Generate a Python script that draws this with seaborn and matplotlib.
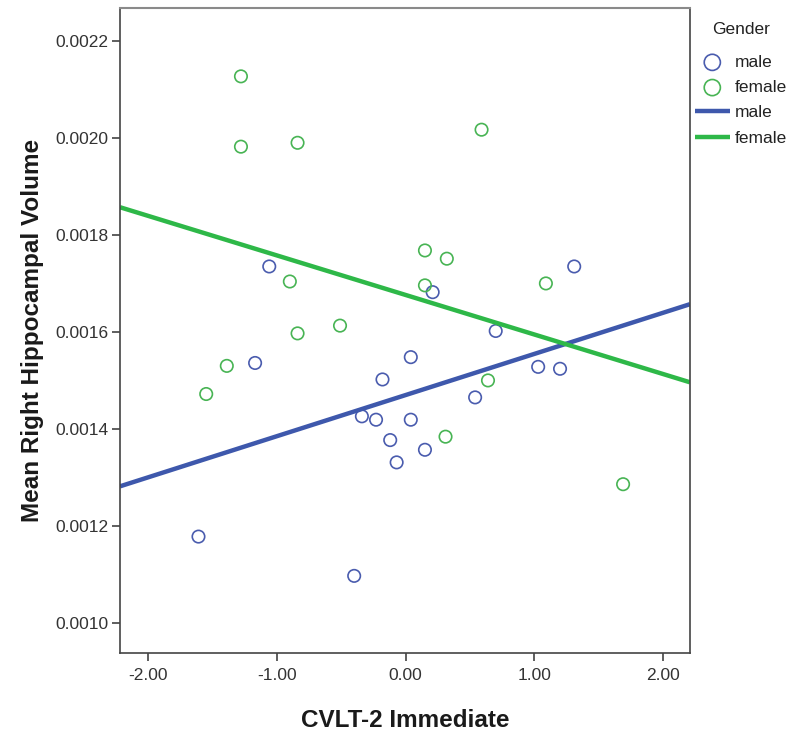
import pandas as pd
import matplotlib
matplotlib.use('Agg')
import matplotlib.pyplot as plt
import seaborn as sns

# values
male_cvlt = [-1.06, 1.31, 0.21, 0.70, 0.04, 1.03, 1.20, 0.54, 0.04, -1.17,
             -0.18, -0.34, -0.23, -0.12, -0.07, -1.61, -0.40, 0.15]
male_volume = [0.001735, 0.001735, 0.001682, 0.001602, 0.001548, 0.001528,
               0.001524, 0.001465, 0.001419, 0.001536, 0.001502, 0.001426,
               0.001419, 0.001377, 0.001331, 0.001178, 0.001097, 0.001357]
female_cvlt = [-1.28, -1.28, -0.84, -0.90, -0.51, -0.84, 0.59, 0.15, 0.32,
               0.15, 1.09, 0.64, -1.39, -1.55, 0.31, 1.69]
female_volume = [0.002127, 0.001982, 0.001990, 0.001704, 0.001613, 0.001597,
                 0.002017, 0.001768, 0.001751, 0.001696, 0.001700, 0.001500,
                 0.001530, 0.001472, 0.001384, 0.001286]

genders = ['male', 'female']
colors = {'male': '#3e58ac', 'female': '#2eb848'}
point_colors = {'male': '#4a5cae', 'female': '#48b454'}

df = pd.concat([
    pd.DataFrame({'CVLT-2 Immediate': male_cvlt,
                  'Mean Right Hippocampal Volume': male_volume,
                  'Gender': 'male'}),
    pd.DataFrame({'CVLT-2 Immediate': female_cvlt,
                  'Mean Right Hippocampal Volume': female_volume,
                  'Gender': 'female'}),
], ignore_index=True)

sns.set_theme(style='white')
plt.rcParams['font.family'] = ['Liberation Sans', 'DejaVu Sans']
plt.rcParams['axes.unicode_minus'] = False

fig = plt.figure(figsize=(8, 7.38), dpi=100)
ax = fig.add_axes([0.15, 0.1152, 0.7125, 0.874])

# axis range first, so the fit lines reach the frame
ax.set_xlim(-2.22, 2.21)
ax.set_ylim(0.000938, 0.002268)

# open circles per gender
point_handles = []
for g in genders:
    sns.scatterplot(data=df[df['Gender'] == g], x='CVLT-2 Immediate',
                    y='Mean Right Hippocampal Volume', s=80,
                    facecolor='none', edgecolor=point_colors[g],
                    linewidth=1.2, legend=False, ax=ax)
    point_handles.append(ax.collections[-1])

# linear fit per gender across the full axis
line_handles = []
for g in genders:
    sns.regplot(data=df[df['Gender'] == g], x='CVLT-2 Immediate',
                y='Mean Right Hippocampal Volume', scatter=False, ci=None,
                truncate=False, color=colors[g],
                line_kws={'lw': 3.2, 'solid_capstyle': 'butt'}, ax=ax)
    line_handles.append(ax.lines[-1])

ax.set_xlim(-2.22, 2.21)
ax.set_ylim(0.000938, 0.002268)
ax.set_xticks([-2, -1, 0, 1, 2])
ax.set_yticks([0.0010, 0.0012, 0.0014, 0.0016, 0.0018, 0.0020, 0.0022])
ax.xaxis.set_major_formatter(matplotlib.ticker.FormatStrFormatter('%.2f'))
ax.yaxis.set_major_formatter(matplotlib.ticker.FormatStrFormatter('%.4f'))
ax.tick_params(axis='both', direction='out', length=5.5, width=1.1,
               color='#333333', labelcolor='#333333', labelsize=12.5)
ax.tick_params(axis='x', pad=5, bottom=True)
ax.tick_params(axis='y', pad=3, left=True)

for side in ['left', 'bottom', 'right']:
    ax.spines[side].set_color('#444444')
    ax.spines[side].set_linewidth(1.2)
ax.spines['top'].set_color('#8a8a8a')
ax.spines['top'].set_linewidth(1.5)

ax.set_xlabel('CVLT-2 Immediate', fontsize=17.5, fontweight='bold',
              color='#1a1a1a', labelpad=19)
ax.set_ylabel('Mean Right Hippocampal Volume', fontsize=17.5,
              fontweight='bold', color='#1a1a1a', labelpad=8)

leg = fig.legend(point_handles + line_handles, genders + genders,
                 title='Gender', loc='upper left',
                 bbox_to_anchor=(0.86, 0.98), bbox_transform=fig.transFigure,
                 frameon=False, fontsize=12.5, title_fontsize=12.5,
                 handlelength=2.0, handletextpad=0.3, labelspacing=0.58,
                 markerscale=1.3, borderaxespad=0)
# a bit more room between the title and the first entry
leg._legend_box.sep = 13
for text in leg.get_texts():
    text.set_color('#222222')
leg.get_title().set_color('#222222')

fig.savefig('out.png', dpi=100)
